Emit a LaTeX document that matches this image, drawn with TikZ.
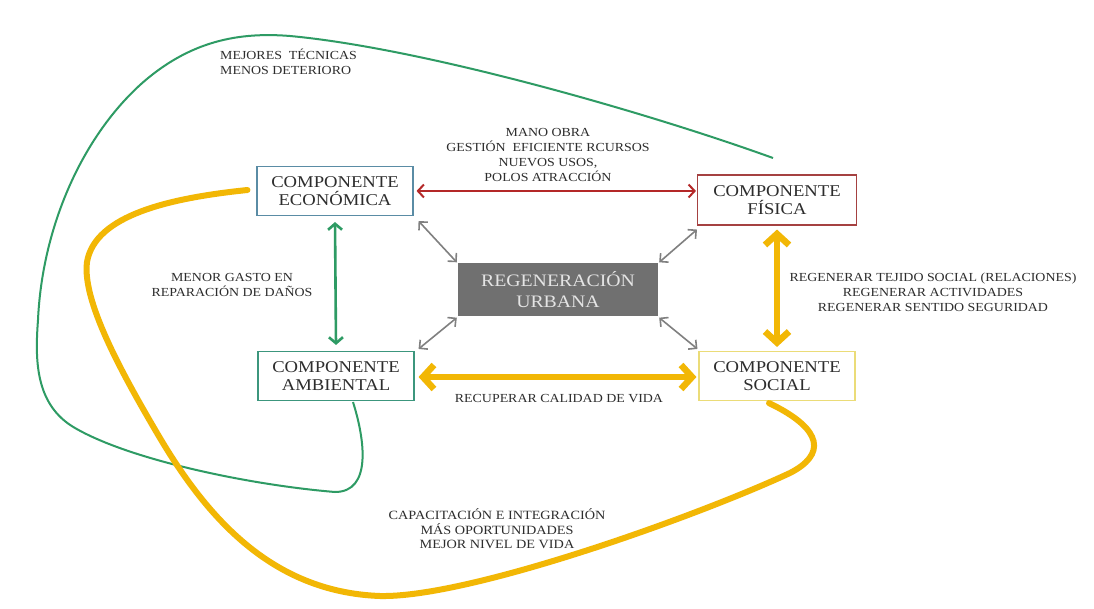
\documentclass[tikz,border=0pt]{standalone}
\usepackage{fontspec}
\newfontfamily\wserif[FakeStretch=1.13]{Liberation Serif}
\usetikzlibrary{arrows.meta,calc}
\definecolor{txt}{RGB}{45,45,45}
\definecolor{ecoc}{RGB}{90,140,165}
\definecolor{fisc}{RGB}{165,65,65}
\definecolor{ambc}{RGB}{60,150,125}
\definecolor{socc}{RGB}{235,220,120}
\definecolor{regc}{RGB}{112,112,112}
\definecolor{regt}{RGB}{228,228,228}
\definecolor{yel}{RGB}{242,183,5}
\definecolor{grn}{RGB}{46,155,100}
\definecolor{redc}{RGB}{180,40,40}
\definecolor{gryc}{RGB}{128,128,128}
\tikzset{
  comp/.style={draw, line width=1.1pt, minimum width=156pt, minimum height=49pt,
    inner sep=0pt, align=center, text=txt,
    font=\wserif\fontsize{16.5}{18.5}\selectfont},
  lab/.style={align=center, text=txt, inner sep=0pt,
    font=\wserif\fontsize{12.3}{15}\selectfont},
  redarr/.style={draw=redc, line width=2pt,
    {Straight Barb[length=6pt,width=13pt]}-{Straight Barb[length=6pt,width=13pt]}},
  grayarr/.style={draw=gryc, line width=1.6pt,
    {Straight Barb[length=6pt,width=12pt]}-{Straight Barb[length=6pt,width=12pt]}},
  grnarr/.style={draw=grn, line width=2.6pt,
    {Straight Barb[length=6pt,width=14pt]}-{Straight Barb[length=6pt,width=14pt]}},
  yelarr/.style={draw=yel, line width=6.5pt,
    {Straight Barb[length=11pt,width=24pt]}-{Straight Barb[length=11pt,width=24pt]}},
}
\begin{document}
\begin{tikzpicture}[x=1pt,y=-1pt]
\useasboundingbox (0,0) rectangle (1094,609);
\fill[white] (0,0) rectangle (1094,609);

% nodes
\node[comp, draw=ecoc] (eco) at (335,191) {COMPONENTE\\ECONÓMICA};
\node[comp, draw=fisc, minimum width=159pt, minimum height=50pt] (fis) at (777,200) {COMPONENTE\\FÍSICA};
\node[comp, draw=ambc] (amb) at (336,376) {COMPONENTE\\AMBIENTAL};
\node[comp, draw=socc] (soc) at (777,376) {COMPONENTE\\SOCIAL};
\node[fill=regc, minimum width=200pt, minimum height=53pt, inner sep=0pt, align=center,
  text=regt, font=\wserif\fontsize{17.5}{21}\selectfont] (reg) at (558,290) {REGENERACIÓN\\URBANA};

% labels
\node[lab, anchor=west, align=left] (lt) at (220,62) {MEJORES\ \ TÉCNICAS\\MENOS DETERIORO};
\node[lab] (lm) at (548,155) {MANO OBRA\\GESTIÓN\ \ EFICIENTE RCURSOS\\NUEVOS USOS,\\POLOS ATRACCIÓN};
\node[lab] (lg) at (232,285) {MENOR GASTO EN\\REPARACIÓN DE DAÑOS};
\node[lab] (lr) at (933,292) {REGENERAR TEJIDO SOCIAL (RELACIONES)\\REGENERAR ACTIVIDADES\\REGENERAR SENTIDO SEGURIDAD};
\node[lab] (lc) at (559,399) {RECUPERAR CALIDAD DE VIDA};
\node[lab, font=\wserif\fontsize{12.6}{14.5}\selectfont] (lb) at (497,529) {CAPACITACIÓN E INTEGRACIÓN\\MÁS OPORTUNIDADES\\MEJOR NIVEL DE VIDA};

% curves
\coordinate (gStart) at ([xshift=17pt,yshift=-1pt]amb.south);
\coordinate (gEnd) at (773,158);
\draw[grn, line width=2pt] (gStart)
  .. controls (365,440) and (372,492) .. (335,492)
  .. controls (250,485) and (130,460) .. (75,428)
  .. controls (35,405) and (35,360) .. (38,320)
  .. controls (42,230) and (80,140) .. (140,85)
  .. controls (190,40) and (240,32) .. (290,36)
  .. controls (420,48) and (640,110) .. (gEnd);

\coordinate (yStart) at ([xshift=-9pt,yshift=1pt]eco.west);
\coordinate (yEnd) at ([xshift=-8pt,yshift=-2pt]soc.south);
\draw[yel, line width=6pt, line cap=round] (yStart)
  .. controls (170,198) and (95,215) .. (87,262)
  .. controls (82,300) and (120,370) .. (157,433)
  .. controls (205,515) and (270,592) .. (380,596)
  .. controls (470,598) and (700,515) .. (790,473)
  .. controls (825,455) and (825,430) .. (yEnd);

% arrows
\draw[redarr] ([xshift=3pt]eco.east) -- ([xshift=-1pt]fis.west |- eco.east);
\draw[grnarr] ([yshift=-6pt]eco.south) -- ([yshift=6pt]amb.north);
\draw[yelarr] ([yshift=-4pt]fis.south) -- ([yshift=4pt]soc.north);
\draw[yelarr] ([xshift=4pt,yshift=-1pt]amb.east) -- ([xshift=-2pt,yshift=-1pt]soc.west);
\draw[grayarr] ([xshift=5pt,yshift=-5pt]eco.south east) -- ([xshift=-1pt,yshift=1pt]reg.north west);
\draw[grayarr] ([xshift=-1pt,yshift=-1pt]reg.south west) -- ([xshift=4pt,yshift=2pt]amb.north east);
\draw[grayarr] ([xshift=1pt,yshift=1pt]reg.north east) -- ([xshift=0pt,yshift=-4pt]fis.south west);
\draw[grayarr] ([xshift=1pt,yshift=-1pt]reg.south east) -- ([xshift=-1pt,yshift=2pt]soc.north west);
\end{tikzpicture}
\end{document}
